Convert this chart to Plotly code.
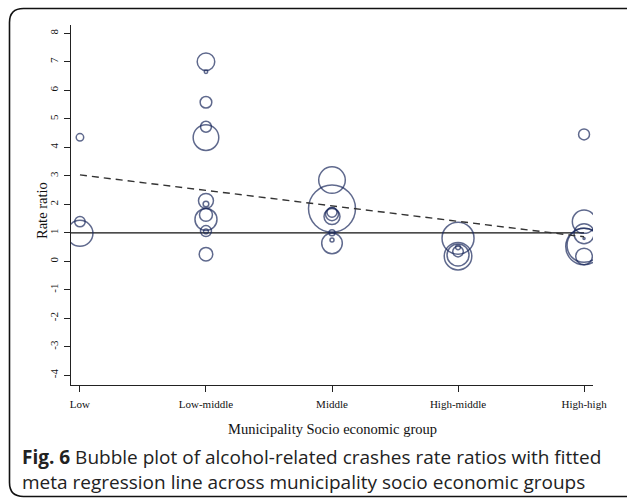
import plotly.graph_objects as go

# Municipality socio-economic groups (x categories)
groups = ["Low", "Low-middle", "Middle", "High-middle", "High-high"]

# Study-level estimates: group, rate ratio and meta-analytic weight
study_group = (
    ["Low"] * 3
    + ["Low-middle"] * 12
    + ["Middle"] * 8
    + ["High-middle"] * 5
    + ["High-high"] * 7
)
rate_ratio = [
    4.35, 1.39, 0.98,
    7.00, 6.65, 5.58, 4.72, 4.34, 2.12, 2.01, 1.63, 1.47, 1.06, 1.05, 0.25,
    2.85, 1.85, 1.72, 1.65, 1.57, 1.00, 0.75, 0.63,
    0.81, 0.18, 0.22, 0.34, 0.49,
    4.45, 1.39, 0.97, 0.52, 0.56, 0.17, 0.80,
]
weight = [
    1.4, 2.7, 16.9,
    7.7, 0.3, 3.4, 3.0, 16.4, 5.6, 0.8, 4.2, 12.1, 3.0, 0.6, 4.6,
    17.7, 55.2, 2.5, 4.2, 6.4, 0.9, 0.4, 10.6,
    25.6, 19.0, 12.1, 2.8, 0.6,
    3.0, 13.7, 10.0, 33.5, 28.9, 6.9, 0.1,
]

# Fitted meta-regression line (rate ratio vs group rank)
fit_intercept = 3.03
fit_slope = -0.5425
null_value = 1.0

y_ticks = list(range(-4, 9))

x_pos = [groups.index(g) for g in study_group]
x_fit = [0, len(groups) - 1]
y_fit = [fit_intercept + fit_slope * x for x in x_fit]

X_RANGE = [-0.071, 4.071]
Y_RANGE = [-4.34, 8.29]

navy = "#1b295c"
serif = "Liberation Serif, Times New Roman, serif"
sans = "Open Sans, sans-serif"

fig = go.Figure()

# Reference line at rate ratio = 1
fig.add_trace(go.Scatter(
    x=[X_RANGE[0], x_fit[1]], y=[null_value, null_value],
    mode="lines", line=dict(color="#111111", width=1.3),
    hoverinfo="skip", showlegend=False,
))

# Weighted study bubbles
fig.add_trace(go.Scatter(
    x=x_pos, y=rate_ratio, mode="markers",
    marker=dict(
        symbol="circle-open", size=weight, sizemode="area", sizeref=0.05,
        color=navy, line=dict(width=1.5, color=navy),
    ),
    showlegend=False,
))

# Fitted regression line
fig.add_trace(go.Scatter(
    x=x_fit, y=y_fit, mode="lines",
    line=dict(color="#333333", width=1.4, dash="7px,5px"),
    hoverinfo="skip", showlegend=False,
))

# Plot-area pixel geometry used for placing text and the frame
L, R, T, B = 71, 593, 25, 385
W, H = R - L, B - T


def px(x):
    return (x - L) / W


def py(y):
    return (B - y) / H


fl, fr, ft, fb = px(9.5), px(640), py(8.5), py(496.5)
rx, ry = 14 / W, 14 / H
frame = (
    f"M {fr} {ft} L {fl + rx} {ft} Q {fl} {ft} {fl} {ft - ry} "
    f"L {fl} {fb + ry} Q {fl} {fb} {fl + rx} {fb} L {fr} {fb}"
)

caption = (
    "<b>Fig. 6</b> Bubble plot of alcohol-related crashes rate ratios with fitted"
    "<br>meta regression line across municipality socio economic groups"
)

fig.update_layout(
    width=627, height=504,
    margin=dict(l=L, r=627 - R, t=T, b=504 - B),
    paper_bgcolor="white", plot_bgcolor="white",
    font=dict(family=serif, color="#111111"),
    xaxis=dict(
        range=X_RANGE, tickvals=list(range(len(groups))), ticktext=groups,
        showline=True, linecolor="#222222", linewidth=1,
        ticks="outside", ticklen=6, tickwidth=1, tickcolor="#222222",
        ticklabelstandoff=3,
        showgrid=False, zeroline=False,
        tickfont=dict(family=serif, size=11, color="#111111"),
    ),
    yaxis=dict(
        range=Y_RANGE, tickvals=y_ticks, ticktext=[str(v) for v in y_ticks],
        tickangle=-90, ticklabelstandoff=2,
        showline=True, linecolor="#222222", linewidth=1,
        ticks="outside", ticklen=6, tickwidth=1, tickcolor="#222222",
        showgrid=False, zeroline=False,
        tickfont=dict(family=serif, size=11, color="#111111"),
    ),
    shapes=[dict(
        type="path", xref="paper", yref="paper", path=frame,
        line=dict(color="#111111", width=1.6),
    )],
    annotations=[
        dict(
            text="Municipality Socio economic group",
            xref="paper", yref="paper", x=px(332), y=py(429),
            xanchor="center", yanchor="middle", showarrow=False,
            font=dict(family=serif, size=14.5, color="#111111"),
        ),
        dict(
            text="Rate ratio", textangle=-90,
            xref="paper", yref="paper", x=px(42), y=py(211),
            xanchor="center", yanchor="middle", showarrow=False,
            font=dict(family=serif, size=14.5, color="#111111"),
        ),
        dict(
            text=caption, xref="paper", yref="paper", x=px(20), y=py(469.5),
            xanchor="left", yanchor="middle", align="left", showarrow=False,
            font=dict(family=sans, size=19, color="#222222"),
        ),
    ],
)

fig.write_html("out.html")
